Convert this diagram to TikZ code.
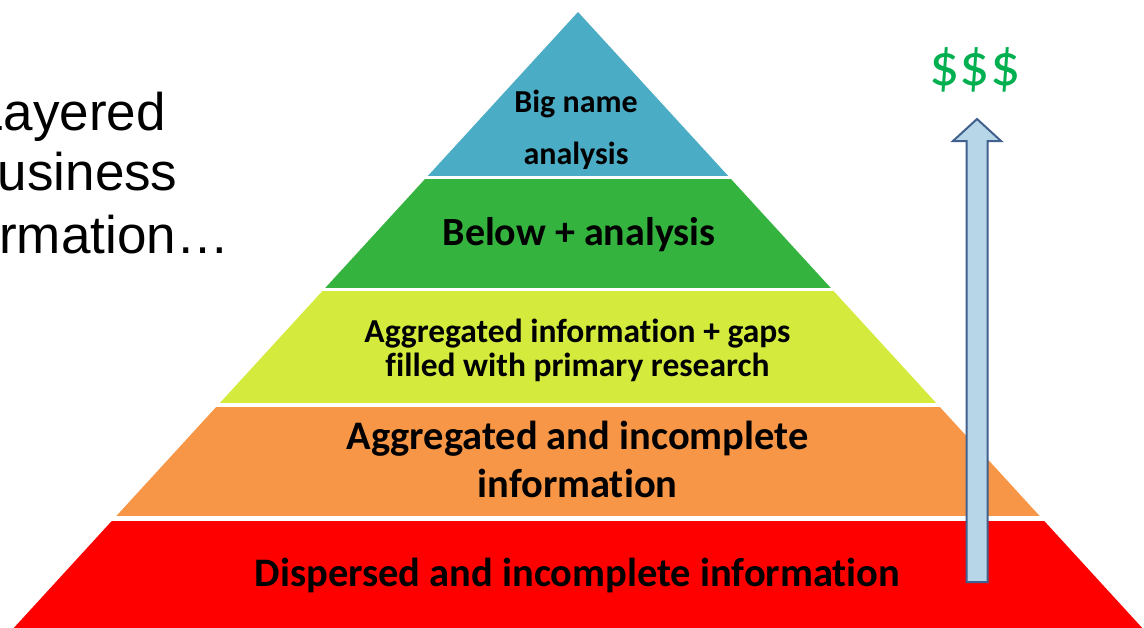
\documentclass[tikz,border=0pt]{standalone}
\usepackage{fontspec}
\newfontfamily\calib[Ligatures=NoCommon]{Carlito}
\newfontfamily\arialf{Liberation Sans}
\definecolor{lblue}{RGB}{75,172,198}
\definecolor{lgreen}{RGB}{52,180,62}
\definecolor{lyellow}{RGB}{212,235,62}
\definecolor{lorange}{RGB}{247,150,70}
\definecolor{lred}{RGB}{255,0,0}
\definecolor{arrfill}{RGB}{183,214,232}
\definecolor{arrline}{RGB}{65,96,142}
\definecolor{dollar}{RGB}{0,176,80}
\tikzset{
  layertext/.style={anchor=base, inner sep=0pt, text=black, font=\calib\bfseries},
  sidetext/.style={anchor=base, inner sep=0pt, text=black, font=\arialf\fontsize{53}{60}\selectfont},
}
\begin{document}
\begin{tikzpicture}[x=1pt,y=-1pt]
\useasboundingbox (0,0) rectangle (1144,627);
\clip (0,0) rectangle (1144,627);
\fill[white] (0,0) rectangle (1144,627);
% pyramid geometry
\coordinate (apex) at (578,12);
\coordinate (bl) at ({578-0.916*(700-12)},700);
\coordinate (br) at ({578+0.916*(700-12)},700);
% layers
\foreach \ya/\yb/\col in {0/175/lblue, 179/287/lgreen, 291/402/lyellow, 407/515/lorange, 521/700/lred}{
  \begin{scope}
    \clip (0,\ya) rectangle (1144,\yb);
    \fill[\col] (apex) -- (bl) -- (br) -- cycle;
  \end{scope}
}
% layer texts
\node[layertext, font=\calib\bfseries\fontsize{32}{38}\selectfont] (t1a) at (576,112) {Big name};
\node[layertext, font=\calib\bfseries\fontsize{32}{38}\selectfont] (t1b) at (576,164) {analysis};
\node[layertext, font=\calib\bfseries\fontsize{40}{48}\selectfont] (t2) at (579,245) {Below + analysis};
\node[layertext, font=\calib\bfseries\fontsize{33.5}{40}\selectfont] (t3a) at (577.5,342) {Aggregated information + gaps};
\node[layertext, font=\calib\bfseries\fontsize{33.5}{40}\selectfont] (t3b) at (577.5,376) {filled with primary research};
\node[layertext, font=\calib\bfseries\fontsize{40.5}{48}\selectfont] (t4a) at (577.5,449) {Aggregated and incomplete};
\node[layertext, font=\calib\bfseries\fontsize{40.5}{48}\selectfont] (t4b) at (577.5,497) {information};
\node[layertext, font=\calib\bfseries\fontsize{40.5}{48}\selectfont] (t5) at (577.5,586) {Dispersed and incomplete information};
% left text
\node[sidetext] (s1) at (70,130) {Layered};
\node[sidetext] (s2) at (70,190) {Business};
\node[sidetext] (s3) at (70,253) {Information…};
% arrow
\draw[fill=arrfill, draw=arrline, line width=2pt, line join=miter]
  (977,119) -- (1001,141) -- (987.5,141) -- (987.5,582) -- (966.5,582)
  -- (966.5,141) -- (953,141) -- cycle;
\node[anchor=base, inner sep=0pt, text=dollar, font=\calib\fontsize{60}{64}\selectfont] (dol) at (975,85) {\$\$\$};
\end{tikzpicture}
\end{document}
